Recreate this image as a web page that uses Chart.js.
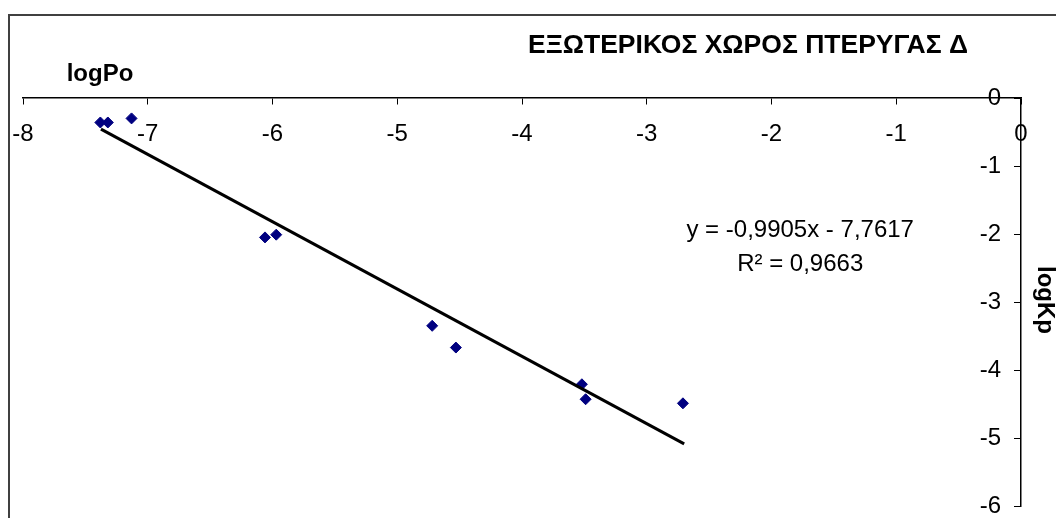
<!DOCTYPE html>
<html>
<head>
<meta charset="utf-8">
<script src="https://cdn.jsdelivr.net/npm/chart.js@4"></script>
<style>
  html, body { margin: 0; padding: 0; background: #fff; overflow: hidden; }
  #frame { position: absolute; left: 8px; top: 14px; width: 1100px; height: 600px; border: 2px solid #404040; }
  #chart { position: absolute; left: 0; top: 0; }
</style>
</head>
<body>
<div id="frame"></div>
<canvas id="chart" width="1056" height="518"></canvas>
<script>
// Μετρήσεις (logPo, logKp)
var logPo = [-7.38, -7.32, -7.13, -6.06, -5.97, -4.72, -4.53, -3.52, -3.49, -2.71];
var logKp = [-0.36, -0.36, -0.30, -2.05, -2.01, -3.35, -3.67, -4.21, -4.43, -4.49];

// Γραμμή τάσης (άκρα όπως φαίνονται στο γράφημα)
var trendX = [-7.375, -2.70];
var trendY = [-0.457, -5.087];

var chartTitle = 'ΕΞΩΤΕΡΙΚΟΣ ΧΩΡΟΣ ΠΤΕΡΥΓΑΣ Δ';
var xTitle = 'logPo';
var yTitle = 'logKp';
var equation = ['y = -0,9905x - 7,7617', 'R² = 0,9663'];

var FONT = 'Arial, "Liberation Sans", sans-serif';

function toPoints(xs, ys) {
    return xs.map(function (x, i) { return { x: x, y: ys[i] }; });
}

// Plugin για τους τίτλους και την εξίσωση
var textPlugin = {
    id: 'texts',
    afterDraw: function (chart) {
        var ctx = chart.ctx;
        var sx = chart.scales.x, sy = chart.scales.y;
        ctx.save();
        ctx.fillStyle = '#000';
        ctx.textBaseline = 'middle';

        ctx.font = 'bold 26.5px ' + FONT;
        ctx.textAlign = 'center';
        ctx.fillText(chartTitle, 748, 46);

        ctx.font = 'bold 24px ' + FONT;
        ctx.fillText(xTitle, 100, 74);

        ctx.save();
        ctx.translate(1045, 300);
        ctx.rotate(Math.PI / 2);
        ctx.fillText(yTitle, 0, 0);
        ctx.restore();

        ctx.font = '24px ' + FONT;
        ctx.fillText(equation[0], sx.getPixelForValue(-1.77), sy.getPixelForValue(-1.94));
        ctx.fillText(equation[1], sx.getPixelForValue(-1.77), sy.getPixelForValue(-2.44));
        ctx.restore();
    }
};

var ctx = document.getElementById('chart').getContext('2d');
var chart = new Chart(ctx, {
    type: 'scatter',
    data: {
        datasets: [{
            label: 'trend',
            data: toPoints(trendX, trendY),
            showLine: true,
            borderColor: '#000',
            borderWidth: 3,
            pointRadius: 0
        }, {
            label: 'logKp',
            data: toPoints(logPo, logKp),
            pointStyle: 'rectRot',
            pointRadius: 5.5,
            backgroundColor: '#000080',
            borderColor: '#000080',
            borderWidth: 1
        }]
    },
    options: {
        responsive: false,
        animation: false,
        layout: { padding: { left: 23, right: 35, top: 98, bottom: 12 } },
        plugins: {
            legend: { display: false },
            tooltip: { enabled: false }
        },
        scales: {
            x: {
                type: 'linear',
                min: -8,
                max: 0,
                position: { y: 0 },
                border: { display: true, color: '#000', width: 1.5 },
                grid: { drawOnChartArea: false, drawTicks: true, tickLength: 6, color: '#000' },
                ticks: { stepSize: 1, color: '#000', padding: 12, font: { family: FONT, size: 24, lineHeight: 1.5 }, maxRotation: 0 }
            },
            y: {
                type: 'linear',
                min: -6,
                max: 0,
                position: { x: 0 },
                border: { display: true, color: '#000', width: 1.5 },
                grid: { drawOnChartArea: false, drawTicks: true, tickLength: 6, color: '#000' },
                ticks: {
                    stepSize: 1, color: '#000', padding: -5, font: { family: FONT, size: 24 },
                    // κενά στο τέλος για να απομακρυνθεί η ετικέτα από τον άξονα
                    callback: function (value) { return value + '   '; }
                }
            }
        }
    },
    plugins: [textPlugin]
});
</script>
</body>
</html>
